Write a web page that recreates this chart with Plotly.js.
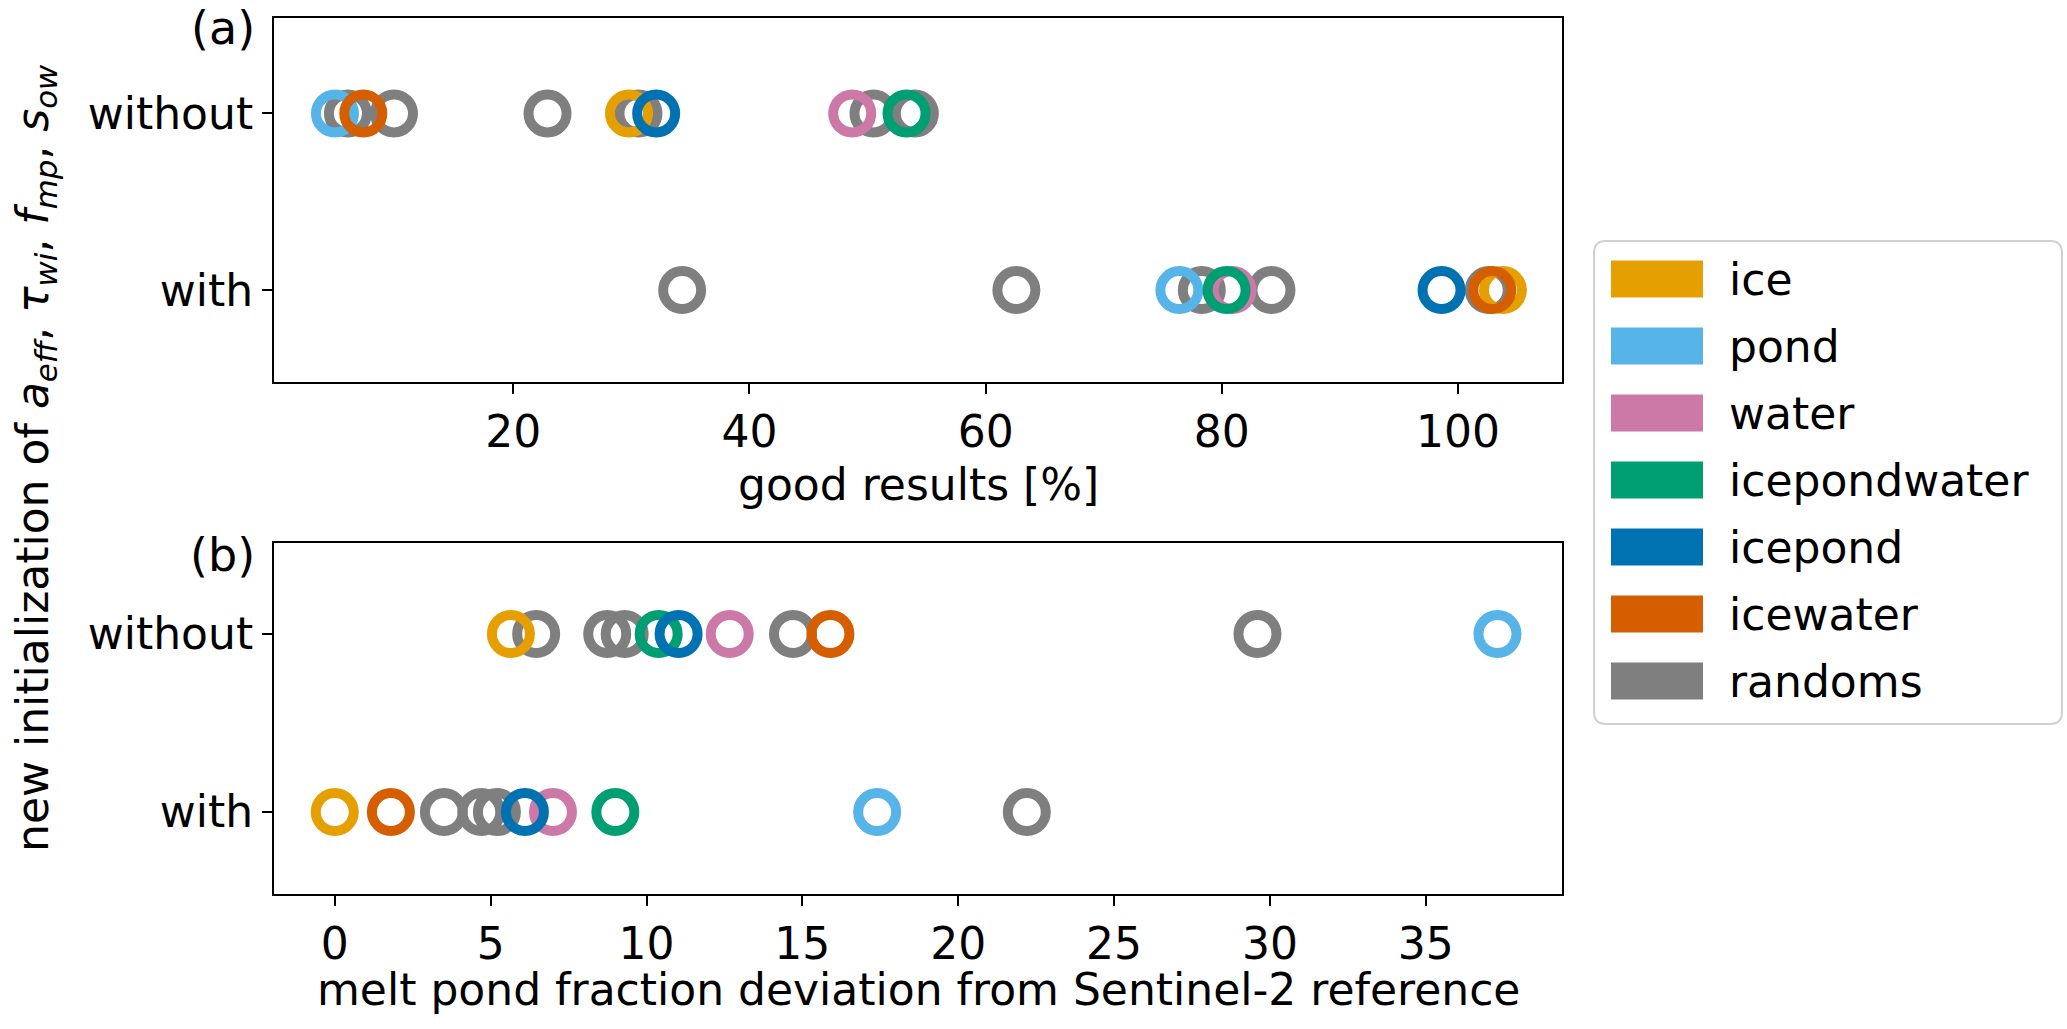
<!DOCTYPE html>
<html>
<head>
<meta charset="utf-8">
<script src="https://cdn.plot.ly/plotly-3.0.1.min.js"></script>
<style>html,body{margin:0;padding:0;background:#fff;}#chart{width:2067px;height:1029px;}</style>
</head>
<body>
<div id="chart"></div>
<script>
// ---- data ----
const categories = ['ice', 'pond', 'water', 'icepondwater', 'icepond', 'icewater', 'randoms'];
const rowLabels = ['with', 'without'];
// panel (a): good results [%], one value per category (ice..icewater)
const goodWithout = [29.8, 4.9, 48.7, 53.3, 32.1, 7.3];
const goodWith = [103.8, 76.4, 80.9, 80.4, 98.6, 102.9];
const goodRandomWithout = [6.0, 9.9, 22.9, 30.6, 50.5, 54.0];
const goodRandomWith = [34.3, 62.6, 78.3, 84.2, 102.6];
// panel (b): melt pond fraction deviation
const devWithout = [5.65, 37.3, 12.67, 10.39, 11.03, 15.9];
const devWith = [0.0, 17.4, 7.0, 9.0, 6.1, 1.8];
const devRandomWithout = [6.46, 8.74, 9.3, 14.7, 29.6];
const devRandomWith = [3.5, 4.7, 5.2, 22.2];
const ticksA = [20, 40, 60, 80, 100];
const ticksB = [0, 5, 10, 15, 20, 25, 30, 35];

// ---- styles ----
const colors = ['#E69F00', '#56B4E9', '#CC79A7', '#009E73', '#0072B2', '#D55E00', '#7f7f7f'];
const W = 2067, H = 1029;
const FONT = 'DejaVu Sans';
const FS = 44;
const px = x => x / W;
const py = y => 1 - y / H;

function ring(xs, ys, color, xa, ya) {
  return {
    type: 'scatter', mode: 'markers', x: xs, y: ys, xaxis: xa, yaxis: ya,
    showlegend: false, hoverinfo: 'x',
    marker: {symbol: 'circle-open', size: 38, color: color, line: {width: 10, color: color}}
  };
}

const traces = [];
// randoms first (drawn underneath)
const gi = 6;
traces.push(ring(goodRandomWithout, goodRandomWithout.map(() => 'without'), colors[gi], 'x', 'y'));
traces.push(ring(goodRandomWith, goodRandomWith.map(() => 'with'), colors[gi], 'x', 'y'));
traces.push(ring(devRandomWithout, devRandomWithout.map(() => 'without'), colors[gi], 'x2', 'y2'));
traces.push(ring(devRandomWith, devRandomWith.map(() => 'with'), colors[gi], 'x2', 'y2'));
for (let i = 0; i < 6; i++) {
  traces.push(ring([goodWithout[i], goodWith[i]], ['without', 'with'], colors[i], 'x', 'y'));
}
for (let i = 0; i < 6; i++) {
  traces.push(ring([devWithout[i], devWith[i]], ['without', 'with'], colors[i], 'x2', 'y2'));
}

const axisCommon = {
  showline: true, mirror: true, linecolor: 'black', linewidth: 2,
  ticks: 'outside', ticklen: 10, tickwidth: 2, tickcolor: 'black',
  showgrid: false, zeroline: false,
  tickfont: {family: FONT, size: FS, color: 'black'}
};

// legend (custom patches)
const shapes = [];
const annotations = [];
const lx0 = 1594, lx1 = 2062, ly0 = 241, ly1 = 724, r = 12;
const P = (x, y) => px(x).toFixed(5) + ',' + py(y).toFixed(5);
shapes.push({
  type: 'path', xref: 'paper', yref: 'paper',
  path: 'M' + P(lx0 + r, ly0) + ' L' + P(lx1 - r, ly0) + ' Q' + P(lx1, ly0) + ' ' + P(lx1, ly0 + r) +
        ' L' + P(lx1, ly1 - r) + ' Q' + P(lx1, ly1) + ' ' + P(lx1 - r, ly1) +
        ' L' + P(lx0 + r, ly1) + ' Q' + P(lx0, ly1) + ' ' + P(lx0, ly1 - r) +
        ' L' + P(lx0, ly0 + r) + ' Q' + P(lx0, ly0) + ' ' + P(lx0 + r, ly0) + ' Z',
  line: {color: '#d0d0d0', width: 2}, fillcolor: 'rgba(255,255,255,0.8)'
});
categories.forEach((c, i) => {
  const yc = 279 + 67 * i;
  shapes.push({type: 'rect', xref: 'paper', yref: 'paper',
    x0: px(1611), x1: px(1703), y0: py(yc + 18.5), y1: py(yc - 18.5),
    line: {width: 0}, fillcolor: colors[i]});
  annotations.push({xref: 'paper', yref: 'paper', x: px(1727), y: py(yc), xanchor: 'left', yanchor: 'middle',
    text: c, showarrow: false, font: {family: FONT, size: FS, color: 'black'}});
});

// axis titles and panel labels
annotations.push({xref: 'paper', yref: 'paper', x: px(918), y: py(484), xanchor: 'center', yanchor: 'middle',
  text: 'good results [%]', showarrow: false, font: {family: FONT, size: FS, color: 'black'}});
annotations.push({xref: 'paper', yref: 'paper', x: px(918), y: py(989), xanchor: 'center', yanchor: 'middle',
  text: 'melt pond fraction deviation from Sentinel-2 reference', showarrow: false, font: {family: FONT, size: FS, color: 'black'}});
annotations.push({xref: 'paper', yref: 'paper', x: px(36), y: py(458), xanchor: 'center', yanchor: 'middle', textangle: -90,
  text: 'new initialization of <i>a</i><sub><i>eff</i></sub>, <i>τ</i><sub><i>wi</i></sub>, <i>f</i><sub><i>mp</i></sub>, <i>s</i><sub><i>ow</i></sub>',
  showarrow: false, font: {family: FONT, size: FS, color: 'black'}});
annotations.push({xref: 'paper', yref: 'paper', x: px(257), y: py(28), xanchor: 'right', yanchor: 'middle',
  text: '(a)', showarrow: false, font: {family: FONT, size: 46, color: 'black'}});
annotations.push({xref: 'paper', yref: 'paper', x: px(257), y: py(555), xanchor: 'right', yanchor: 'middle',
  text: '(b)', showarrow: false, font: {family: FONT, size: 46, color: 'black'}});

const layout = {
  width: W, height: H,
  margin: {l: 0, r: 0, t: 0, b: 0},
  paper_bgcolor: 'white', plot_bgcolor: 'white',
  showlegend: false,
  font: {family: FONT, size: FS, color: 'black'},
  xaxis: Object.assign({}, axisCommon, {domain: [px(274), px(1562)], range: [-0.26, 108.8],
    tickvals: ticksA, anchor: 'y'}),
  yaxis: Object.assign({}, axisCommon, {domain: [py(382), py(18)], type: 'category',
    categoryorder: 'array', categoryarray: rowLabels, range: [-0.52, 1.54], anchor: 'x'}),
  xaxis2: Object.assign({}, axisCommon, {domain: [px(274), px(1562)], range: [-1.95, 39.37],
    tickvals: ticksB, anchor: 'y2'}),
  yaxis2: Object.assign({}, axisCommon, {domain: [py(894), py(543)], type: 'category',
    categoryorder: 'array', categoryarray: rowLabels, range: [-0.46, 1.511], anchor: 'x2'}),
  shapes: shapes,
  annotations: annotations
};

Plotly.newPlot('chart', traces, layout, {staticPlot: true, displayModeBar: false});
</script>
</body>
</html>
